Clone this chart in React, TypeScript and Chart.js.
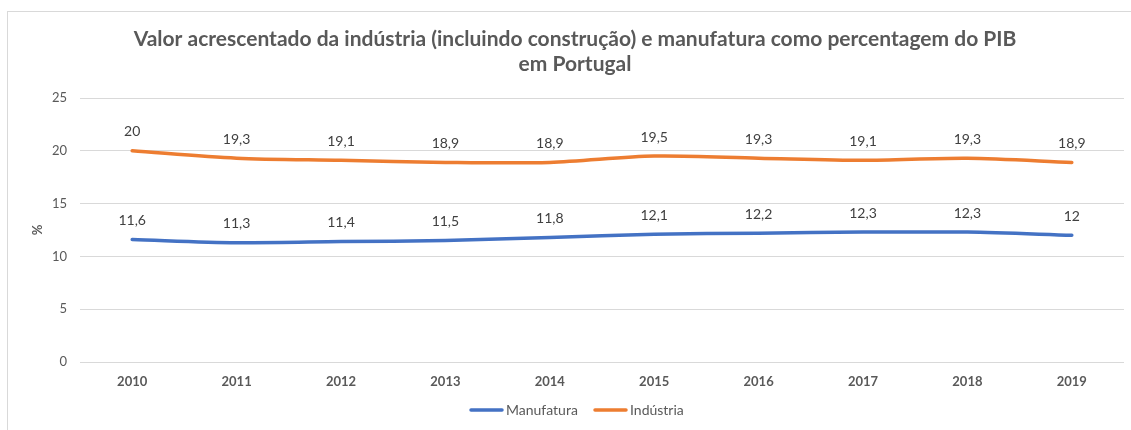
import React, { useEffect, useRef } from "react";
import { Chart, registerables } from "chart.js";

Chart.register(...registerables);

const years = ["2010", "2011", "2012", "2013", "2014", "2015", "2016", "2017", "2018", "2019"];
const manufatura = [11.6, 11.3, 11.4, 11.5, 11.8, 12.1, 12.2, 12.3, 12.3, 12];
const industria = [20, 19.3, 19.1, 18.9, 18.9, 19.5, 19.3, 19.1, 19.3, 18.9];
const titleLines = [
  "Valor acrescentado da indústria (incluindo construção) e manufatura como percentagem do PIB",
  "em Portugal",
];
const seriesNames = ["Manufatura", "Indústria"];
const seriesColors = ["#4472C4", "#ED7D31"];
const yTitle = "%";

const FONT = "Lato, 'Open Sans', sans-serif";
const TEXT = "#595959";

const decorPlugin = {
  id: "decor",
  afterDatasetsDraw(chart: any) {
    const ctx = chart.ctx;
    ctx.save();
    ctx.font = `14px ${FONT}`;
    ctx.fillStyle = "#404040";
    ctx.textAlign = "center";
    ctx.textBaseline = "middle";
    chart.data.datasets.forEach((ds: any, i: number) => {
      const meta = chart.getDatasetMeta(i);
      meta.data.forEach((pt: any, j: number) => {
        const v = ds.data[j];
        ctx.fillText(String(v).replace(".", ","), pt.x, pt.y - 19);
      });
    });
    ctx.restore();
  },
  afterDraw(chart: any) {
    const ctx = chart.ctx;
    ctx.save();
    ctx.strokeStyle = "#d9d9d9";
    ctx.lineWidth = 1;
    ctx.strokeRect(7.5, 11.5, 1200, 600);
    ctx.fillStyle = TEXT;
    ctx.font = `bold 21px ${FONT}`;
    ctx.textAlign = "center";
    ctx.textBaseline = "middle";
    ctx.fillText(titleLines[0], 575, 39);
    ctx.fillText(titleLines[1], 575, 64);
    ctx.save();
    ctx.translate(38, 230);
    ctx.rotate(-Math.PI / 2);
    ctx.font = `bold 13px ${FONT}`;
    ctx.fillText(yTitle, 0, 0);
    ctx.restore();
    const ly = 410;
    ctx.font = `14px ${FONT}`;
    ctx.textAlign = "left";
    const items = [
      { x: 471, name: seriesNames[0], color: seriesColors[0] },
      { x: 595, name: seriesNames[1], color: seriesColors[1] },
    ];
    items.forEach((it) => {
      ctx.strokeStyle = it.color;
      ctx.lineWidth = 3.5;
      ctx.lineCap = "round";
      ctx.beginPath();
      ctx.moveTo(it.x, ly);
      ctx.lineTo(it.x + 31, ly);
      ctx.stroke();
      ctx.fillStyle = TEXT;
      ctx.fillText(it.name, it.x + 35, ly);
    });
    ctx.restore();
  },
};

export default function App() {
  const ref = useRef<HTMLCanvasElement>(null);
  useEffect(() => {
    if (!ref.current) return;
    const chart = new Chart(ref.current, {
      type: "line",
      data: {
        labels: years,
        datasets: [
          {
            label: seriesNames[0],
            data: manufatura,
            borderColor: seriesColors[0],
            backgroundColor: seriesColors[0],
            borderWidth: 3.5,
            pointRadius: 0,
            tension: 0.3,
            borderCapStyle: "round",
          },
          {
            label: seriesNames[1],
            data: industria,
            borderColor: seriesColors[1],
            backgroundColor: seriesColors[1],
            borderWidth: 3.5,
            pointRadius: 0,
            tension: 0.3,
            borderCapStyle: "round",
          },
        ],
      },
      options: {
        animation: false,
        responsive: false,
        layout: { padding: { top: 98, right: 7, left: 0, bottom: 0 } },
        plugins: {
          legend: { display: false },
          title: { display: false },
          tooltip: { enabled: false },
        },
        scales: {
          x: {
            offset: true,
            grid: { display: false, drawTicks: false },
            border: { display: false },
            ticks: {
              color: TEXT,
              font: { family: FONT, size: 13, weight: "bold" },
              padding: 12,
              maxRotation: 0,
            },
            afterFit(scale: any) {
              scale.height = 68;
            },
          },
          y: {
            min: 0,
            max: 25,
            ticks: {
              stepSize: 5,
              color: TEXT,
              font: { family: FONT, size: 13 },
              padding: 13,
            },
            grid: { color: "#d9d9d9", drawTicks: false, lineWidth: 1 },
            border: { display: false },
            afterFit(scale: any) {
              scale.width = 80;
            },
          },
        },
      },
      plugins: [decorPlugin],
    });
    return () => chart.destroy();
  }, []);
  return (
    <div style={{ position: "fixed", left: 0, top: 0, width: 1131, height: 430, background: "#fff" }}>
      <canvas ref={ref} width={1131} height={430} style={{ display: "block" }} />
    </div>
  );
}
